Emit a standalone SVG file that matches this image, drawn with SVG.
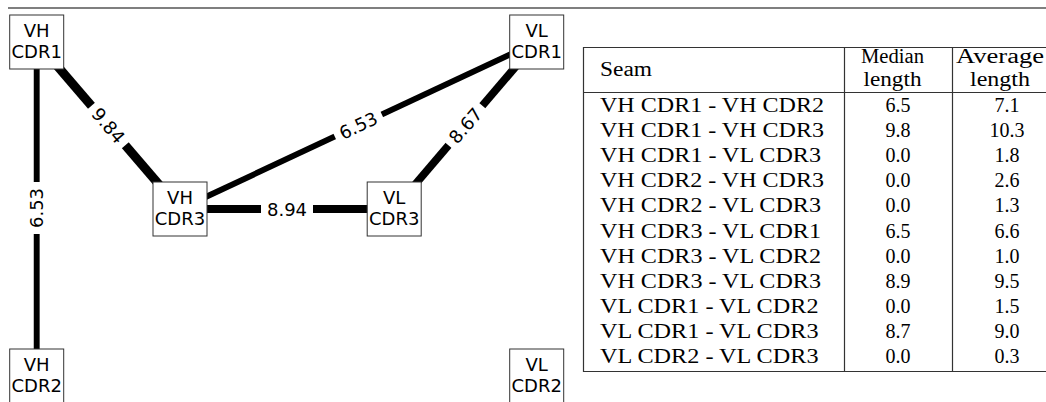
<svg xmlns="http://www.w3.org/2000/svg" width="1046" height="402" viewBox="0 0 1046 402">
<style>
.node rect{fill:#fff;stroke:#333;stroke-width:1}
.node text{font-family:"DejaVu Sans",sans-serif;font-size:18px;fill:#000;text-anchor:middle}
.edge{stroke:#000;stroke-linecap:butt;fill:none}
.lbl rect{fill:#fff;stroke:none}
.lbl text{font-family:"DejaVu Sans",sans-serif;font-size:18px;fill:#000;text-anchor:middle;dominant-baseline:central}
.tbl line{stroke:#333;stroke-width:1.2}
.tbl text{font-family:"Liberation Serif","Times New Roman",serif;font-size:20px;fill:#000}
.c{text-anchor:middle}
</style>
<line x1="8" y1="8" x2="1046" y2="8" stroke="#000" stroke-width="1.2"/>
<g id="connectors">
<line class="edge" x1="36.7" y1="42" x2="36.7" y2="376" stroke-width="5.9"/>
<line class="edge" x1="36.7" y1="42" x2="180" y2="209" stroke-width="8.9"/>
<line class="edge" x1="180" y1="209" x2="536.7" y2="42" stroke-width="5.9"/>
<line class="edge" x1="180" y1="209" x2="394.2" y2="209" stroke-width="8"/>
<line class="edge" x1="536.7" y1="42" x2="394.2" y2="209" stroke-width="7.8"/>
<g class="lbl" transform="translate(36.7,208) rotate(-90)"><rect x="-26" y="-11" width="52" height="22"/><text x="0" y="0">6.53</text></g>
<g class="lbl" transform="translate(108.4,125.5) rotate(49.4)"><rect x="-26" y="-11" width="52" height="22"/><text x="0" y="0">9.84</text></g>
<g class="lbl" transform="translate(358.3,125.5) rotate(-25.1)"><rect x="-26" y="-11" width="52" height="22"/><text x="0" y="0">6.53</text></g>
<g class="lbl" transform="translate(287,209)"><rect x="-26" y="-11" width="52" height="22"/><text x="0" y="0">8.94</text></g>
<g class="lbl" transform="translate(465.4,125.5) rotate(-49.5)"><rect x="-26" y="-11" width="52" height="22"/><text x="0" y="0">8.67</text></g>
</g>
<g id="vh-cdr1" class="node"><rect x="9.7" y="15" width="54" height="54"/><text x="36.7" y="36.5">VH</text><text x="36.7" y="58">CDR1</text></g>
<g id="vl-cdr1" class="node"><rect x="509.7" y="15" width="54" height="54"/><text x="536.7" y="36.5">VL</text><text x="536.7" y="58">CDR1</text></g>
<g id="vh-cdr3" class="node"><rect x="153" y="182" width="54" height="54"/><text x="180" y="203.5">VH</text><text x="180" y="225">CDR3</text></g>
<g id="vl-cdr3" class="node"><rect x="367.2" y="182" width="54" height="54"/><text x="394.2" y="203.5">VL</text><text x="394.2" y="225">CDR3</text></g>
<g id="vh-cdr2" class="node"><rect x="9.7" y="349" width="54" height="54"/><text x="36.7" y="370.5">VH</text><text x="36.7" y="392">CDR2</text></g>
<g id="vl-cdr2" class="node"><rect x="509.7" y="349" width="54" height="54"/><text x="536.7" y="370.5">VL</text><text x="536.7" y="392">CDR2</text></g>
<g id="table" class="tbl">
<line x1="583" y1="47.5" x2="1046" y2="47.5"/>
<line x1="583" y1="92.5" x2="1046" y2="92.5"/>
<line x1="583" y1="371.5" x2="1046" y2="371.5"/>
<line x1="583.5" y1="47" x2="583.5" y2="372"/>
<line x1="844.5" y1="47" x2="844.5" y2="372"/>
<line x1="952.5" y1="47" x2="952.5" y2="372"/>
<text x="600" y="76" textLength="52" lengthAdjust="spacingAndGlyphs">Seam</text>
<text x="892.5" y="63" class="c" textLength="63" lengthAdjust="spacingAndGlyphs">Median</text>
<text x="892.5" y="86" class="c" textLength="58" lengthAdjust="spacingAndGlyphs">length</text>
<text x="1000" y="63" class="c" textLength="88" lengthAdjust="spacingAndGlyphs">Average</text>
<text x="1000" y="86" class="c" textLength="60" lengthAdjust="spacingAndGlyphs">length</text>
<g>
<text x="600" y="112" textLength="224" lengthAdjust="spacingAndGlyphs">VH CDR1 - VH CDR2</text>
<text x="600" y="137.1" textLength="224" lengthAdjust="spacingAndGlyphs">VH CDR1 - VH CDR3</text>
<text x="600" y="162.2" textLength="221" lengthAdjust="spacingAndGlyphs">VH CDR1 - VL CDR3</text>
<text x="600" y="187.3" textLength="224" lengthAdjust="spacingAndGlyphs">VH CDR2 - VH CDR3</text>
<text x="600" y="212.4" textLength="221" lengthAdjust="spacingAndGlyphs">VH CDR2 - VL CDR3</text>
<text x="600" y="237.5" textLength="221" lengthAdjust="spacingAndGlyphs">VH CDR3 - VL CDR1</text>
<text x="600" y="262.6" textLength="221" lengthAdjust="spacingAndGlyphs">VH CDR3 - VL CDR2</text>
<text x="600" y="287.7" textLength="221" lengthAdjust="spacingAndGlyphs">VH CDR3 - VL CDR3</text>
<text x="600" y="312.8" textLength="218.5" lengthAdjust="spacingAndGlyphs">VL CDR1 - VL CDR2</text>
<text x="600" y="337.9" textLength="218.5" lengthAdjust="spacingAndGlyphs">VL CDR1 - VL CDR3</text>
<text x="600" y="363" textLength="218.5" lengthAdjust="spacingAndGlyphs">VL CDR2 - VL CDR3</text>
</g>
<g class="c">
<text x="898" y="112" class="c">6.5</text>
<text x="898" y="137.1" class="c">9.8</text>
<text x="898" y="162.2" class="c">0.0</text>
<text x="898" y="187.3" class="c">0.0</text>
<text x="898" y="212.4" class="c">0.0</text>
<text x="898" y="237.5" class="c">6.5</text>
<text x="898" y="262.6" class="c">0.0</text>
<text x="898" y="287.7" class="c">8.9</text>
<text x="898" y="312.8" class="c">0.0</text>
<text x="898" y="337.9" class="c">8.7</text>
<text x="898" y="363" class="c">0.0</text>
<text x="1007" y="112" class="c">7.1</text>
<text x="1007" y="137.1" class="c">10.3</text>
<text x="1007" y="162.2" class="c">1.8</text>
<text x="1007" y="187.3" class="c">2.6</text>
<text x="1007" y="212.4" class="c">1.3</text>
<text x="1007" y="237.5" class="c">6.6</text>
<text x="1007" y="262.6" class="c">1.0</text>
<text x="1007" y="287.7" class="c">9.5</text>
<text x="1007" y="312.8" class="c">1.5</text>
<text x="1007" y="337.9" class="c">9.0</text>
<text x="1007" y="363" class="c">0.3</text>
</g>
</g>
</svg>
